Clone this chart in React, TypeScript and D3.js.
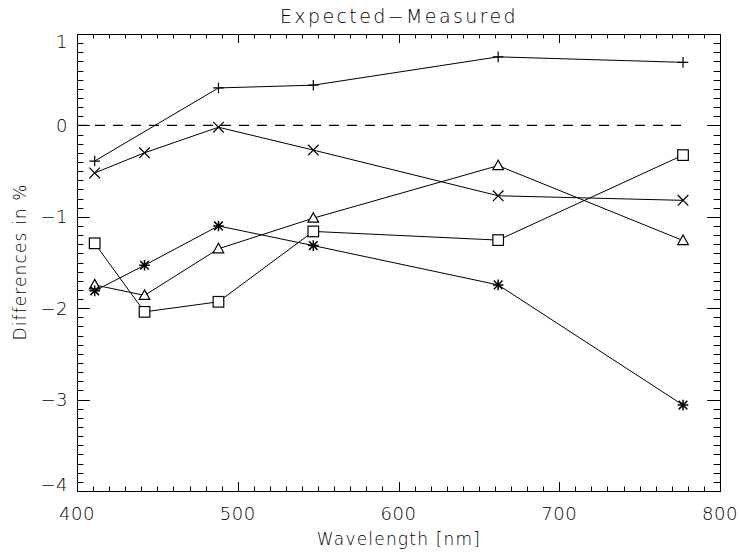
import React from "react";
import * as d3 from "d3";

const wavelengths = [411, 442, 488, 547, 662, 777];
const plusX = [411, 488, 547, 662, 777];
const plusY = [-0.39, 0.41, 0.44, 0.75, 0.69];
const crossY = [-0.52, -0.3, -0.02, -0.27, -0.77, -0.82];
const triangleY = [-1.745, -1.86, -1.35, -1.015, -0.44, -1.26];
const squareY = [-1.29, -2.04, -1.93, -1.16, -1.255, -0.325];
const asteriskY = [-1.81, -1.53, -1.1, -1.315, -1.745, -3.06];
const xTicks = [400, 500, 600, 700, 800];
const yTicks = [1, 0, -1, -2, -3, -4];

const W = 740;
const H = 555;
const L = 77, R = 720, T = 34, B = 491;
const FONT = "'DejaVu Sans', sans-serif";

function Marker({ kind, x, y }: { kind: string; x: number; y: number }) {
  const s = 5.3;
  const st = { stroke: "#000", strokeWidth: 1.2, fill: "none" };
  if (kind === "plus")
    return <path d={`M${x - s},${y}H${x + s}M${x},${y - s}V${y + s}`} {...st} />;
  if (kind === "cross")
    return <path d={`M${x - s},${y - s}L${x + s},${y + s}M${x - s},${y + s}L${x + s},${y - s}`} {...st} />;
  if (kind === "square")
    return <rect x={x - s} y={y - s} width={2 * s} height={2 * s} {...st} fill="#fff" />;
  if (kind === "triangle")
    return <path d={`M${x},${y - 5.5}L${x + 5.3},${y + 4}L${x - 5.3},${y + 4}Z`} {...st} fill="#fff" />;
  return (
    <path
      d={`M${x - s},${y}H${x + s}M${x},${y - s}V${y + s}M${x - 4.3},${y - 4.3}L${x + 4.3},${y + 4.3}M${x - 4.3},${y + 4.3}L${x + 4.3},${y - 4.3}`}
      {...st}
      strokeWidth={1.5}
    />
  );
}

export default function App() {
  const x = d3.scaleLinear().domain([400, 800]).range([L, R]);
  const y = d3.scaleLinear().domain([-4, 1]).range([B, T]);
  const line = d3
    .line<[number, number]>()
    .x((d) => x(d[0]))
    .y((d) => y(d[1]));

  const series: { kind: string; xs: number[]; ys: number[] }[] = [
    { kind: "plus", xs: plusX, ys: plusY },
    { kind: "cross", xs: wavelengths, ys: crossY },
    { kind: "triangle", xs: wavelengths, ys: triangleY },
    { kind: "square", xs: wavelengths, ys: squareY },
    { kind: "asterisk", xs: wavelengths, ys: asteriskY },
  ];

  const xMinor = d3.range(400, 801, 10);
  const yMinor = d3.range(-40, 11, 1).map((v) => v / 10);
  const xMajLen = 9, xMinLen = 4.5, yMajLen = 12.8, yMinLen = 6.4;

  return (
    <svg
      width={W}
      height={H}
      style={{ position: "absolute", left: 0, top: 0, background: "#fff" }}
      fontFamily={FONT}
      fontWeight={200}
    >
      <rect x={0} y={0} width={W} height={H} fill="#fff" />
      <g stroke="#000" strokeWidth={1}>
        {xMinor.map((v) => {
          const major = v % 100 === 0;
          const len = major ? xMajLen : xMinLen;
          const px = Math.round(x(v)) + 0.5;
          return (
            <g key={"xt" + v}>
              <line x1={px} x2={px} y1={B} y2={B - len} />
              <line x1={px} x2={px} y1={T} y2={T + len} />
            </g>
          );
        })}
        {yMinor.map((v) => {
          const major = Math.abs(v - Math.round(v)) < 1e-6;
          const len = major ? yMajLen : yMinLen;
          const py = Math.round(y(v)) + 0.5;
          return (
            <g key={"yt" + v}>
              <line x1={L} x2={L + len} y1={py} y2={py} />
              <line x1={R} x2={R - len} y1={py} y2={py} />
            </g>
          );
        })}
      </g>
      <rect x={L + 0.5} y={T + 0.5} width={R - L} height={B - T} fill="none" stroke="#000" strokeWidth={1} />

      <line
        x1={x(400)}
        x2={x(wavelengths[wavelengths.length - 1])}
        y1={y(0)}
        y2={y(0)}
        stroke="#000"
        strokeWidth={1.3}
        strokeDasharray="10,8"
      />

      {series.map((s) => {
        const pts = s.xs.map((v, i) => [v, s.ys[i]] as [number, number]);
        return (
          <g key={s.kind}>
            <path d={line(pts) || ""} fill="none" stroke="#000" strokeWidth={1} />
            {pts.map((p, i) => (
              <Marker key={i} kind={s.kind} x={x(p[0])} y={y(p[1])} />
            ))}
          </g>
        );
      })}

      <g fontSize={18} fill="#000">
        {xTicks.map((v) => (
          <text key={"xl" + v} x={x(v)} y={520} textAnchor="middle" letterSpacing={0.5}>
            {v}
          </text>
        ))}
        {yTicks.map((v) => {
          const py = Math.min(Math.max(y(v), T + 7.5), B - 7);
          return (
            <text key={"yl" + v} x={68} y={py} textAnchor="end" dominantBaseline="central" letterSpacing={0.5}>
              {v < 0 ? "\u2212" + Math.abs(v) : String(v)}
            </text>
          );
        })}
      </g>

      <text x={399} y={23} textAnchor="middle" fontSize={19} letterSpacing={2.4} fill="#000">
        Expected−Measured
      </text>
      <text x={399} y={545} textAnchor="middle" fontSize={17} letterSpacing={1.2} fill="#000">
        Wavelength [nm]
      </text>
      <text
        transform="translate(26,262) rotate(-90)"
        textAnchor="middle"
        fontSize={17}
        letterSpacing={1.1}
        fill="#000"
      >
        Differences in %
      </text>
    </svg>
  );
}
